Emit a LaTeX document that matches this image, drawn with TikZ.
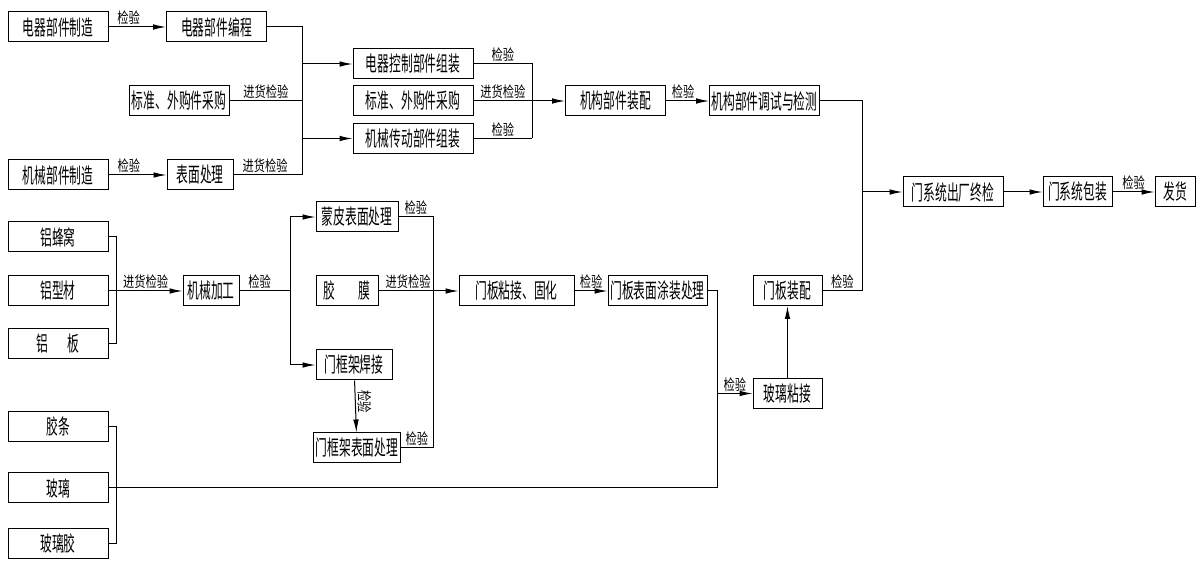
\documentclass[tikz,border=0pt]{standalone}
\usepackage{fontspec}
\newfontfamily\cjk[FakeStretch=0.56]{Noto Sans CJK SC}
\newfontfamily\cjklb[FakeStretch=0.75]{Noto Sans CJK SC}
\usetikzlibrary{arrows.meta}
\tikzset{
  stepbox/.style={draw, line width=0.5pt, minimum height=15pt, inner xsep=1pt, inner ysep=0pt, font=\cjk\fontsize{10.5}{12}\selectfont},
  chk/.style={font=\cjklb\fontsize{7.5}{9}\selectfont, inner sep=0.8pt},
  wire/.style={line width=0.5pt},
  flow/.style={wire, ->}
}

\begin{document}
\begin{tikzpicture}[x=0.5pt, y=-0.5pt, >={Latex[length=6.5pt,width=2.8pt]}]
  \useasboundingbox (0,0) rectangle (1201,561);
  % 1. 机构部件
  \node[stepbox, minimum width=50pt] (elecMake) at (58,27) {电器部件制造};
  \node[stepbox, minimum width=50pt] (elecProg) at (216.5,27) {电器部件编程};
  \node[stepbox, minimum width=50pt] (buyA) at (179,101) {标准、外购件采购};
  \node[stepbox, minimum width=50pt] (mechMake) at (58,175) {机械部件制造};
  \node[stepbox, minimum width=33pt] (surf) at (200,175) {表面处理};
  \node[stepbox, minimum width=60pt] (elecAsm) at (413,64) {电器控制部件组装};
  \node[stepbox, minimum width=60pt] (buyB) at (413,101) {标准、外购件采购};
  \node[stepbox, minimum width=60pt] (mechAsm) at (413,138.5) {机械传动部件组装};
  \node[stepbox, minimum width=50pt] (mechFit) at (615.5,101) {机构部件装配};
  \node[stepbox, minimum width=50pt] (mechTest) at (764.5,101) {机构部件调试与检测};
  \coordinate (busA) at (302,0);
  \coordinate (busB) at (532,0);
  \coordinate (busC) at (862,0);
  \draw[flow] (elecMake) -- node[chk, above, pos=0.35] {检验} (elecProg);
  \draw[flow] (mechMake) -- node[chk, above, pos=0.35] {检验} (surf);
  \draw[wire] (elecProg.east) -| (surf.east -| busA);
  \draw[wire] (surf.east) -- node[chk, above, pos=0.46] {进货检验} (surf.east -| busA);
  \draw[wire] (buyA.east) -- node[chk, above] {进货检验} (buyA.east -| busA);
  \draw[flow] (busA |- elecAsm.west) -- (elecAsm.west);
  \draw[flow] (busA |- mechAsm.west) -- (mechAsm.west);
  \draw[wire] (elecAsm.east) -- node[chk, above] {检验} (elecAsm.east -| busB) -- (mechAsm.east -| busB);
  \draw[wire] (mechAsm.east) -- node[chk, above] {检验} (mechAsm.east -| busB);
  \draw[flow] (buyB.east) -- node[chk, above, pos=0.32] {进货检验} (mechFit.west);
  \draw[flow] (mechFit) -- node[chk, above, pos=0.4] {检验} (mechTest);
  % 2. 出厂
  \node[stepbox, minimum width=50pt] (finalChk) at (953,192) {门系统出厂终检};
  \node[stepbox, minimum width=34.5pt] (pack) at (1077.5,192) {门系统包装};
  \node[stepbox, minimum width=20pt] (ship) at (1175,192) {发货};
  \draw[flow] (busC |- finalChk.west) -- (finalChk.west);
  \draw[flow] (finalChk) -- (pack);
  \draw[flow] (pack) -- node[chk, above] {检验} (ship);
  % 3. 门板
  \node[stepbox, minimum width=50pt] (honey) at (58,237) {铝蜂窝};
  \node[stepbox, minimum width=50pt] (profile) at (58,291) {铝型材};
  \node[stepbox, minimum width=50pt] (plate) at (58,344) {铝\hspace{10pt}板};
  \node[stepbox, minimum width=28pt] (machining) at (211,291) {机械加工};
  \node[stepbox, minimum width=41pt] (skin) at (357,217) {蒙皮表面处理};
  \node[stepbox, minimum width=31pt] (film) at (347,291) {胶\hspace{12pt}膜};
  \node[stepbox, minimum width=38pt] (frameWeld) at (354,365) {门框架焊接};
  \node[stepbox, minimum width=41pt] (frameSurf) at (357,448) {门框架表面处理};
  \node[stepbox, minimum width=57.5pt] (panelBond) at (516.5,291) {门板粘接、固化};
  \node[stepbox, minimum width=49.5pt] (panelCoat) at (657.5,291) {门板表面涂装处理};
  \node[stepbox, minimum width=34.5pt] (panelAsm) at (787.5,290.5) {门板装配};
  \node[stepbox, minimum width=34.5pt] (glassBond) at (787.5,393.5) {玻璃粘接};
  \coordinate (busD) at (116,0);
  \coordinate (busE) at (290,0);
  \coordinate (busF) at (433,0);
  \coordinate (busG) at (717,0);
  \draw[wire] (honey.east) -| (plate.east -| busD) -- (plate.east);
  \draw[flow] (profile) -- node[chk, above] {进货检验} (machining);
  \draw[wire] (machining.east) -- node[chk, above, pos=0.4] {检验} (machining.east -| busE);
  \draw[flow] (machining.east -| busE) |- (skin.west);
  \draw[flow] (machining.east -| busE) |- (frameWeld.west);
  \draw[wire] (skin.east) -- node[chk, above] {检验} (skin.east -| busF) -- (frameSurf.east -| busF);
  \draw[wire] (frameSurf.east) -- node[chk, above] {检验} (frameSurf.east -| busF);
  \draw[flow] (frameWeld) -- node[chk, rotate=-90, anchor=south, pos=0.4] {检验} (frameSurf);
  \draw[flow] (film) -- node[chk, above, pos=0.37] {进货检验} (panelBond);
  \draw[flow] (panelBond) -- node[chk, above] {检验} (panelCoat);
  \draw[wire] (mechTest.east) -| (panelAsm.east -| busC) -- (panelAsm.east);
  \path (panelAsm.east) -- node[chk, above] {检验} (panelAsm.east -| busC);
  % 4. 玻璃
  \node[stepbox, minimum width=50pt] (strip) at (58,427) {胶条};
  \node[stepbox, minimum width=50pt] (glass) at (58,488) {玻璃};
  \node[stepbox, minimum width=50pt] (glassGlue) at (58,544) {玻璃胶};
  \draw[wire] (strip.east) -| (glassGlue.east -| busD) -- (glassGlue.east);
  \draw[wire] (panelCoat.east) -| (glass.east -| busG) -- (glass.east);
  \draw[flow] (busG |- glassBond.west) -- node[chk, above] {检验} (glassBond.west);
  \draw[flow] (glassBond) -- (panelAsm);
\end{tikzpicture}
\end{document}
